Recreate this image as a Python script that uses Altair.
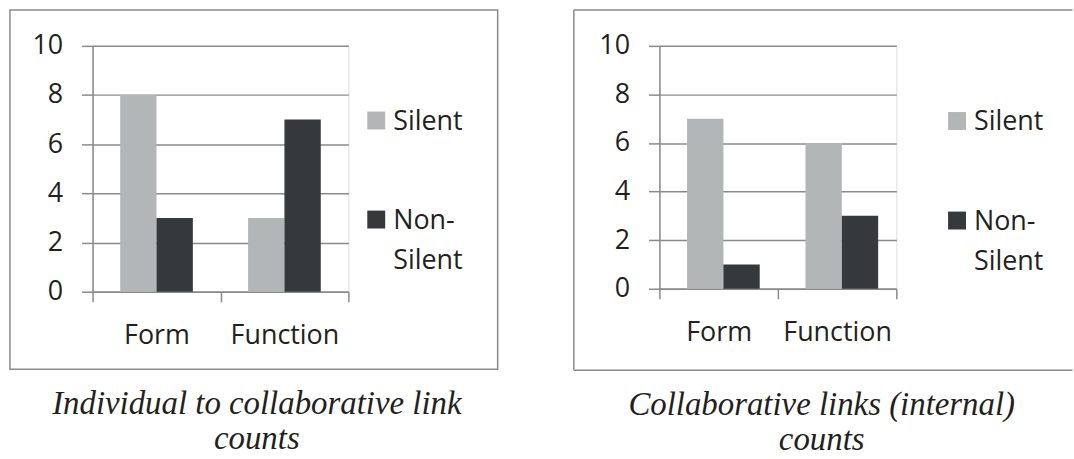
import altair as alt
import pandas as pd

# Categories, series and counts for the two panels
categories = ["Form", "Function"]
series = ["Silent", "Non-Silent"]
legend_labels = ["Silent", "Non-\nSilent"]

individual_silent = [8, 3]
individual_nonsilent = [3, 7]
internal_silent = [7, 6]
internal_nonsilent = [1, 3]

y_ticks = [0, 2, 4, 6, 8, 10]

captions = [
    ["Individual to collaborative link", "counts"],
    ["Collaborative links (internal)", "counts"],
]

LIGHT = "#b3b6b7"
DARK = "#36393c"
LINE = "#8a8a8a"
INK = "#231f20"
SANS = "Open Sans"

color_enc = alt.Color(
    "series:N",
    scale=alt.Scale(domain=series, range=[LIGHT, DARK]),
    legend=None,
)


def panel(silent, nonsilent, w, h, box, legend_x, legend_y, caption, title_dx, open_right=False):
    rows = []
    for cat, s, n in zip(categories, silent, nonsilent):
        rows.append({"category": cat, "series": series[0], "count": s})
        rows.append({"category": cat, "series": series[1], "count": n})
    df = pd.DataFrame(rows)

    bars = alt.Chart(df).mark_bar().encode(
        x=alt.X(
            "category:N",
            sort=categories,
            scale=alt.Scale(paddingInner=0, paddingOuter=0),
            axis=alt.Axis(
                title=None,
                labelAngle=0,
                tickBand="extent",
                grid=False,
                domainColor=LINE,
                domainWidth=1.5,
                tickColor=LINE,
                tickWidth=1.5,
                tickSize=10,
                labelFont=SANS,
                labelFontSize=27,
                labelColor=INK,
                labelPadding=21,
            ),
        ),
        xOffset=alt.XOffset(
            "series:N", sort=series, scale=alt.Scale(paddingInner=0, paddingOuter=0.76)
        ),
        y=alt.Y(
            "count:Q",
            scale=alt.Scale(domain=[0, 10], nice=False),
            axis=alt.Axis(
                title=None,
                values=y_ticks,
                grid=True,
                gridColor=LINE,
                gridWidth=1.5,
                domainColor=LINE,
                domainWidth=1.5,
                tickColor=LINE,
                tickWidth=1.5,
                tickSize=11,
                labelFont=SANS,
                labelFontSize=27,
                labelColor=INK,
                labelPadding=19,
            ),
        ),
        color=color_enc,
    )

    leg_df = pd.DataFrame({"series": series, "label": legend_labels})
    leg_y = alt.Y(
        "series:N",
        sort=series,
        scale=alt.Scale(range=legend_y, padding=0),
        axis=None,
    )
    leg_sq = alt.Chart(leg_df).mark_square(size=324, opacity=1).encode(
        x=alt.value(legend_x), y=leg_y, color=color_enc
    )
    leg_txt = alt.Chart(leg_df).mark_text(
        align="left",
        baseline="alphabetic",
        dy=9.5,
        lineBreak="\n",
        lineHeight=40,
        font=SANS,
        fontSize=27,
        color=INK,
    ).encode(x=alt.value(legend_x + 17), y=leg_y, text="label:N")

    x0, x1, y0, y1 = box
    one = pd.DataFrame({"k": [0]})
    if open_right:
        frame = alt.layer(
            alt.Chart(one).mark_rule(color=LINE, strokeWidth=1.5).encode(
                x=alt.value(x0), x2=alt.value(x1), y=alt.value(y0)
            ),
            alt.Chart(one).mark_rule(color=LINE, strokeWidth=1.5).encode(
                x=alt.value(x0), x2=alt.value(x1), y=alt.value(y1)
            ),
            alt.Chart(one).mark_rule(color=LINE, strokeWidth=1.5).encode(
                x=alt.value(x0), y=alt.value(y0), y2=alt.value(y1)
            ),
        )
    else:
        frame = alt.Chart(one).mark_rect(
            fillOpacity=0, stroke=LINE, strokeWidth=1.5
        ).encode(x=alt.value(x0), x2=alt.value(x1), y=alt.value(y0), y2=alt.value(y1))

    return (
        alt.layer(frame, bars, leg_sq, leg_txt)
        .resolve_scale(y="independent")
        .properties(
            width=w,
            height=h,
            title=alt.TitleParams(
                text=caption,
                orient="bottom",
                anchor="middle",
                frame="group",
                dx=title_dx,
                offset=18,
                font="Liberation Serif",
                fontStyle="italic",
                fontWeight="normal",
                fontSize=33,
                lineHeight=35,
                color=INK,
            ),
        )
    )


left = panel(
    individual_silent, individual_nonsilent, 257, 247,
    (-83, 407, -36, 325), 285, [75, 174.5], captions[0], 36.5,
)
right = panel(
    internal_silent, internal_nonsilent, 238, 244,
    (-86, 415, -36, 326), 299, [75.5, 175.5], captions[1], 44, open_right=True,
)

chart = (
    alt.hconcat(left, right, spacing=72.5)
    .properties(padding={"left": 8, "top": 7, "right": 0, "bottom": 0})
    .configure_view(strokeWidth=0)
    .configure(background="white")
)

chart.save("out.html", embed_options={"renderer": "svg", "actions": False})
